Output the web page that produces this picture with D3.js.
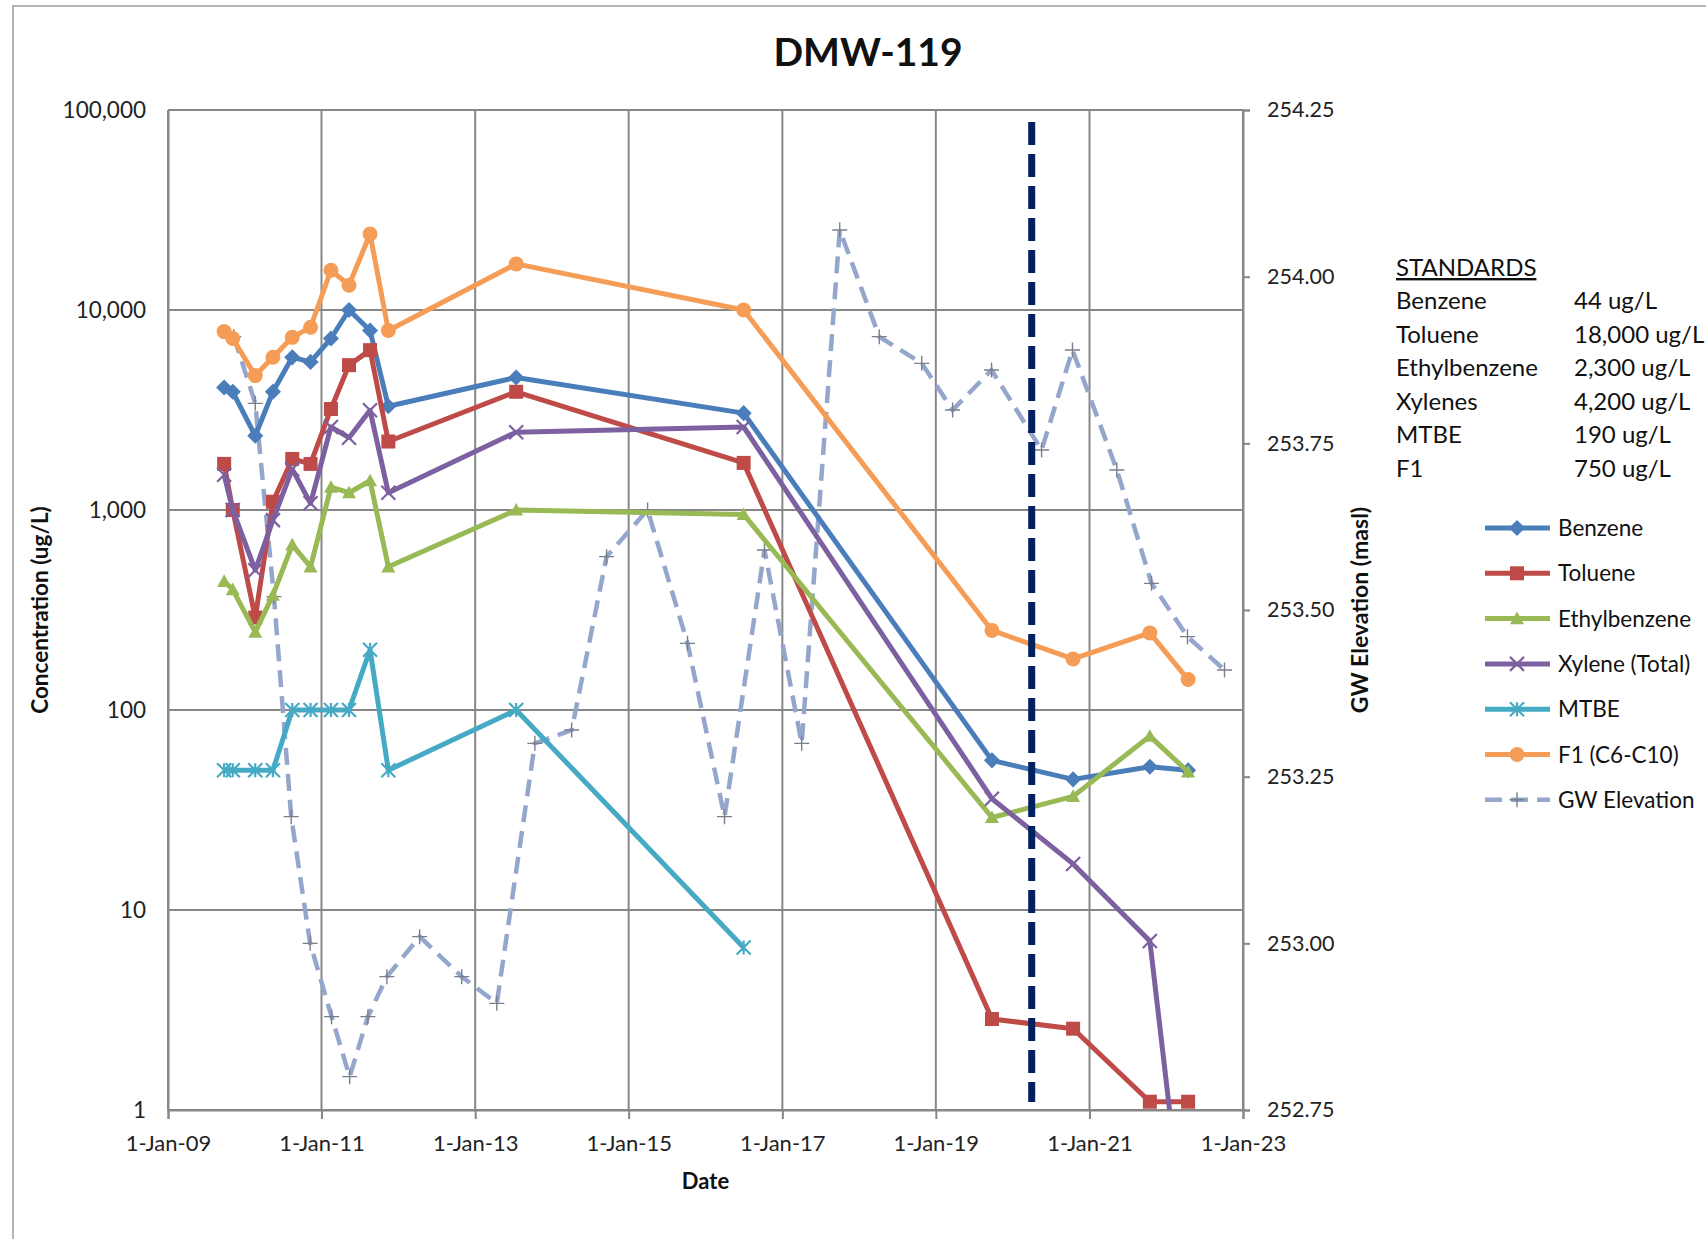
<!DOCTYPE html>
<html>
<head>
<meta charset="utf-8">
<script src="https://cdn.jsdelivr.net/npm/d3@7"></script>
<style>
  html, body { margin: 0; padding: 0; background: #fff; }
  svg { display: block; font-family: Lato, "Open Sans", sans-serif; }
</style>
</head>
<body>
<svg id="chart" width="1706" height="1239"></svg>
<script>
// ---- sampling dates (concentrations) ----
const sampleDates = ["2009-09-25","2009-11-05","2010-02-20","2010-05-15","2010-08-15","2010-11-10",
  "2011-02-15","2011-05-12","2011-08-20","2011-11-15","2013-07-15","2016-07-01",
  "2019-09-25","2020-10-15","2021-10-15","2022-04-15"];

// ---- concentrations (ug/L) ----
const benzene      = [4100, 3900, 2350, 3900, 5800, 5500, 7200, 10000, 7900, 3300, 4600, 3050, 56, 45, 52, 50];
const toluene      = [1700, 1000, 290, 1100, 1800, 1700, 3200, 5300, 6300, 2200, 3900, 1720, 2.85, 2.55, 1.1, 1.1];
const ethylbenzene = [440, 400, 245, 375, 670, 520, 1300, 1220, 1400, 520, 1000, 950, 29, 37, 74, 49];
const xylene       = [1500, 1000, 500, 890, 1600, 1080, 2600, 2300, 3150, 1220, 2450, 2600, 36, 17, 7, 0.16];
const mtbe         = [50, 50, 50, 50, 100, 100, 100, 100, 200, 50, 100, 6.5, null, null, null, null];
const f1           = [7800, 7200, 4700, 5800, 7300, 8200, 15800, 13300, 24000, 7900, 17000, 10000, 250, 180, 243, 142];

// ---- groundwater elevation (masl) ----
const gwDates = ["2009-11-10","2010-02-20","2010-05-20","2010-08-10","2010-11-08","2011-02-18","2011-05-15",
  "2011-08-10","2011-11-08","2012-04-12","2012-10-29","2013-04-14","2013-10-12","2014-04-05","2014-09-18",
  "2015-04-01","2015-10-08","2016-04-01","2016-10-08","2017-04-03","2017-10-01","2018-04-07","2018-10-26",
  "2019-03-22","2019-09-23","2020-05-18","2020-10-12","2021-05-11","2021-10-23","2022-04-12","2022-10-05"];
const gwElevation = [253.91, 253.81, 253.52, 253.19, 253.00, 252.89, 252.80, 252.89, 252.95, 253.01, 252.95,
  252.91, 253.30, 253.32, 253.58, 253.65, 253.45, 253.19, 253.59, 253.30, 254.07, 253.91, 253.87, 253.80,
  253.86, 253.74, 253.89, 253.71, 253.54, 253.46, 253.41];

// ---- remediation marker date ----
const markerDate = "2020-04-01";

// ---- axes ----
const xTickDates = ["2009-01-01","2011-01-01","2013-01-01","2015-01-01","2017-01-01","2019-01-01","2021-01-01","2023-01-01"];
const yTicksLeft = [1, 10, 100, 1000, 10000, 100000];
const yTicksRight = [252.75, 253.00, 253.25, 253.50, 253.75, 254.00, 254.25];

// ---- standards table ----
const standardNames  = ["Benzene", "Toluene", "Ethylbenzene", "Xylenes", "MTBE", "F1"];
const standardValues = ["44 ug/L", "18,000 ug/L", "2,300 ug/L", "4,200 ug/L", "190 ug/L", "750 ug/L"];

const seriesNames = ["Benzene", "Toluene", "Ethylbenzene", "Xylene (Total)", "MTBE", "F1 (C6-C10)"];
const seriesValues = [benzene, toluene, ethylbenzene, xylene, mtbe, f1];
const seriesColors = ["#4a7ebb", "#be4b48", "#98b954", "#7d60a0", "#46aac5", "#f59d56"];
const seriesMarkers = ["diamond", "square", "triangle", "x", "asterisk", "circle"];
const gwColor = "#95a6cc";

const parse = d3.timeParse("%Y-%m-%d");
const svg = d3.select("#chart");

const plot = { left: 168, right: 1243, top: 110, bottom: 1110 };

const x = d3.scaleTime()
  .domain([parse("2009-01-01"), parse("2023-01-01")])
  .range([plot.left, plot.right]);
const y = d3.scaleLog().domain([1, 100000]).range([plot.bottom, plot.top]);
const y2 = d3.scaleLinear().domain([252.75, 254.25]).range([plot.bottom, plot.top]);

// chart frame
svg.append("rect")
  .attr("x", 13).attr("y", 6).attr("width", 1720).attr("height", 1260)
  .attr("fill", "none").attr("stroke", "#9a9a9a").attr("stroke-width", 1.5);

// title
svg.append("text")
  .attr("x", 868).attr("y", 66)
  .attr("text-anchor", "middle")
  .attr("font-size", 39).attr("font-weight", "bold").attr("fill", "#111")
  .text("DMW-119");

const gridColor = "#878787";

// gridlines
const grid = svg.append("g");
grid.selectAll("line.h").data(yTicksLeft).join("line")
  .attr("x1", plot.left).attr("x2", plot.right)
  .attr("y1", d => y(d)).attr("y2", d => y(d))
  .attr("stroke", gridColor).attr("stroke-width", 2);
grid.selectAll("line.v").data(xTickDates.map(parse)).join("line")
  .attr("x1", d => x(d)).attr("x2", d => x(d))
  .attr("y1", plot.top).attr("y2", plot.bottom)
  .attr("stroke", gridColor).attr("stroke-width", 2);

// x axis
const xAxis = d3.axisBottom(x)
  .tickValues(xTickDates.map(parse))
  .tickFormat(d3.timeFormat("%-d-%b-%y"))
  .tickSize(9).tickPadding(16);
const gx = svg.append("g").attr("transform", `translate(0,${plot.bottom})`).call(xAxis);
gx.select(".domain").attr("stroke", gridColor).attr("stroke-width", 2);
gx.selectAll(".tick line").attr("stroke", gridColor).attr("stroke-width", 2);
gx.selectAll(".tick text").attr("font-size", 22).attr("fill", "#222").attr("font-family", "Lato");

// left axis
const yAxis = d3.axisLeft(y)
  .tickValues(yTicksLeft)
  .tickFormat(d3.format(","))
  .tickSize(0).tickPadding(22);
const gy = svg.append("g").attr("transform", `translate(${plot.left},0)`).call(yAxis);
gy.select(".domain").attr("stroke", gridColor).attr("stroke-width", 2);
gy.selectAll(".tick text").attr("font-size", 22.5).attr("fill", "#222").attr("font-family", "Lato");

// right axis
const y2Axis = d3.axisRight(y2)
  .tickValues(yTicksRight)
  .tickFormat(d3.format(".2f"))
  .tickSize(7).tickPadding(17);
const gy2 = svg.append("g").attr("transform", `translate(${plot.right},0)`).call(y2Axis);
gy2.select(".domain").attr("stroke", gridColor).attr("stroke-width", 2);
gy2.selectAll(".tick line").attr("stroke", gridColor).attr("stroke-width", 2);
gy2.selectAll(".tick text").attr("font-size", 21.5).attr("fill", "#222").attr("font-family", "Lato");

// axis titles
svg.append("text")
  .attr("x", (plot.left + plot.right) / 2).attr("y", 1189)
  .attr("text-anchor", "middle").attr("font-size", 22).attr("font-weight", "bold").attr("fill", "#111")
  .text("Date");
svg.append("text")
  .attr("transform", `translate(48,${(plot.top + plot.bottom) / 2}) rotate(-90)`)
  .attr("text-anchor", "middle").attr("font-size", 22.5).attr("font-weight", "bold").attr("fill", "#111")
  .text("Concentration (ug/L)");
svg.append("text")
  .attr("transform", `translate(1368,${(plot.top + plot.bottom) / 2}) rotate(-90)`)
  .attr("text-anchor", "middle").attr("font-size", 23).attr("font-weight", "bold").attr("fill", "#111")
  .text("GW Elevation (masl)");

// clip series to plot area
svg.append("defs").append("clipPath").attr("id", "plotClip")
  .append("rect")
  .attr("x", plot.left).attr("y", plot.top)
  .attr("width", plot.right - plot.left).attr("height", plot.bottom - plot.top);

// marker drawing helper
function drawMarker(g, type, color, size) {
  const s = size / 2;
  if (type === "diamond") {
    g.append("path").attr("d", `M0,${-s}L${s},0L0,${s}L${-s},0Z`).attr("fill", color).attr("stroke", color).attr("stroke-width", 1.5);
  } else if (type === "square") {
    g.append("rect").attr("x", -s).attr("y", -s).attr("width", size).attr("height", size).attr("fill", color);
  } else if (type === "triangle") {
    g.append("path").attr("d", `M0,${-s}L${s},${s * 0.8}L${-s},${s * 0.8}Z`).attr("fill", color);
  } else if (type === "circle") {
    g.append("circle").attr("r", s).attr("fill", color);
  } else if (type === "x") {
    g.append("path").attr("d", `M${-s},${-s}L${s},${s}M${-s},${s}L${s},${-s}`).attr("stroke", color).attr("stroke-width", 2.2).attr("fill", "none");
  } else if (type === "asterisk") {
    g.append("path").attr("d", `M${-s},${-s}L${s},${s}M${-s},${s}L${s},${-s}M0,${-s}L0,${s}`).attr("stroke", color).attr("stroke-width", 2.2).attr("fill", "none");
  } else if (type === "plus") {
    g.append("path").attr("d", `M${-s},0L${s},0M0,${-s}L0,${s}`).attr("stroke", "#7a7f8c").attr("stroke-width", 1.4).attr("fill", "none");
  }
}

const dataLayer = svg.append("g").attr("clip-path", "url(#plotClip)");

// groundwater elevation (secondary axis)
const gwPoints = gwDates.map((d, i) => ({ date: parse(d), v: gwElevation[i] }));
const gwLine = d3.line().x(d => x(d.date)).y(d => y2(d.v));
const gwG = dataLayer.append("g");
gwG.append("path").datum(gwPoints)
  .attr("d", gwLine).attr("fill", "none")
  .attr("stroke", gwColor).attr("stroke-width", 4.5)
  .attr("stroke-dasharray", "17,9");
gwPoints.forEach(p => {
  const m = gwG.append("g").attr("transform", `translate(${x(p.date)},${y2(p.v)})`);
  drawMarker(m, "plus", gwColor, 15);
});

// concentration series
const line = d3.line()
  .defined(d => d.v != null)
  .x(d => x(d.date)).y(d => y(d.v));
seriesValues.forEach((vals, k) => {
  const pts = sampleDates.map((d, i) => ({ date: parse(d), v: vals[i] }));
  const g = dataLayer.append("g");
  g.append("path").datum(pts)
    .attr("d", line).attr("fill", "none")
    .attr("stroke", seriesColors[k]).attr("stroke-width", 5)
    .attr("stroke-linejoin", "round");
  pts.filter(p => p.v != null && p.v >= 1).forEach(p => {
    const m = g.append("g").attr("transform", `translate(${x(p.date)},${y(p.v)})`);
    const size = seriesMarkers[k] === "circle" ? 15 : 14;
    drawMarker(m, seriesMarkers[k], seriesColors[k], size);
  });
});

// remediation date marker
svg.append("line")
  .attr("x1", x(parse(markerDate))).attr("x2", x(parse(markerDate)))
  .attr("y1", 122).attr("y2", 1102)
  .attr("stroke", "#002060").attr("stroke-width", 7)
  .attr("stroke-dasharray", "23,9");

// standards table
const std = svg.append("g").attr("font-size", 24).attr("fill", "#111");
std.append("text").attr("x", 1396).attr("y", 276).text("STANDARDS")
  .attr("text-decoration", "underline");
standardNames.forEach((n, i) => {
  const yy = 309 + i * 33.6;
  std.append("text").attr("x", 1396).attr("y", yy).text(n);
  std.append("text").attr("x", 1574).attr("y", yy).text(standardValues[i]);
});

// legend
const legendNames = seriesNames.concat(["GW Elevation"]);
legendNames.forEach((n, i) => {
  const yy = 528 + i * 45.3;
  const g = svg.append("g");
  const isGw = i === seriesNames.length;
  const col = isGw ? gwColor : seriesColors[i];
  g.append("line").attr("x1", 1485).attr("x2", 1550).attr("y1", yy).attr("y2", yy)
    .attr("stroke", col).attr("stroke-width", isGw ? 4.5 : 5)
    .attr("stroke-dasharray", isGw ? "17,9" : null);
  const m = g.append("g").attr("transform", `translate(1517,${yy})`);
  drawMarker(m, isGw ? "plus" : seriesMarkers[i], col, isGw ? 15 : (seriesMarkers[i] === "circle" ? 15 : 14));
  g.append("text").attr("x", 1558).attr("y", yy + 8).attr("font-size", 22.5).attr("fill", "#111").text(n);
});
</script>
</body>
</html>
